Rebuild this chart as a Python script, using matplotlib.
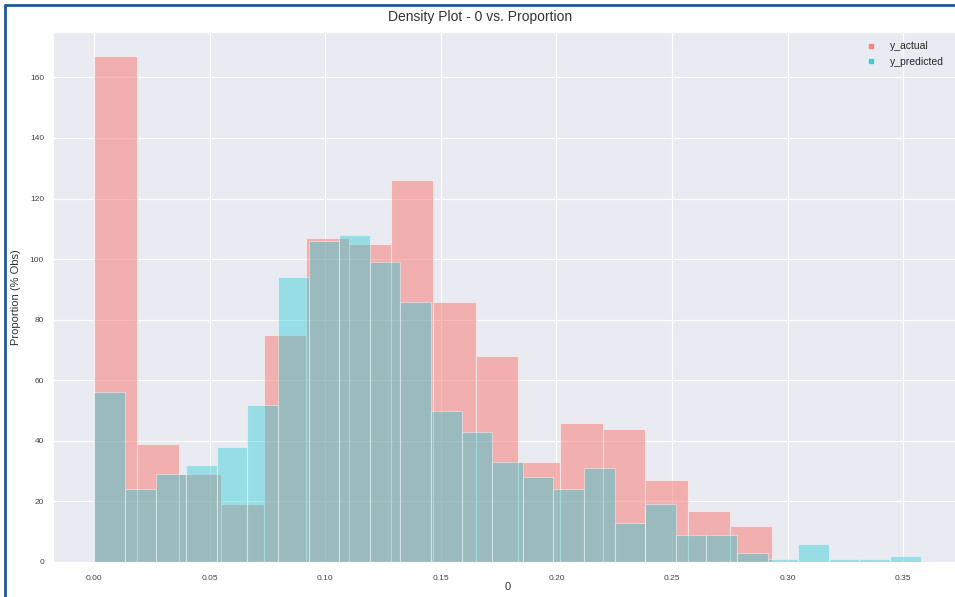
import numpy as np
import matplotlib
matplotlib.use("Agg")
import matplotlib.pyplot as plt
import seaborn as sns
from matplotlib.lines import Line2D

sns.set_style("darkgrid")
plt.rcParams['font.family'] = ['Liberation Sans', 'DejaVu Sans']

# Data
actual_range = (0.0, 0.2934)
actual_values = [167, 39, 29, 19, 75, 107, 105, 126, 86, 68, 33, 46, 44, 27, 17, 12]
predicted_range = (0.0, 0.3576)
predicted_values = [56, 24, 29, 32, 38, 52, 94, 106, 108, 99, 86, 50, 43, 33, 28,
                    24, 31, 13, 19, 9, 9, 3, 1, 6, 1, 1, 2]
series_names = ["y_actual", "y_predicted"]
series_colors = ["#F8766D", "#1CCBD4"]
series_alpha = [0.5, 0.4]
title = "Density Plot - 0 vs. Proportion"
x_label = "0"
y_label = "Proportion (% Obs)"

W, H = 955, 597
fig = plt.figure(figsize=(W / 100, H / 100), dpi=100)
ax = fig.add_axes([53 / W, 1 - 562 / H, (962 - 53) / W, (562 - 32) / H])

for rng, vals, col, a, name in [(actual_range, actual_values, series_colors[0], series_alpha[0], series_names[0]),
                                (predicted_range, predicted_values, series_colors[1], series_alpha[1], series_names[1])]:
    edges = np.linspace(rng[0], rng[1], len(vals) + 1)
    ax.hist(edges[:-1], bins=edges, weights=vals, color=col, alpha=a,
            edgecolor="white", linewidth=0.8, label=name)

ax.set_xlim(-0.0179, 0.3755)
ax.set_ylim(0, 175)
ax.set_xticks(np.arange(0, 0.351, 0.05))
ax.set_xticklabels([f"{v:.2f}" for v in np.arange(0, 0.351, 0.05)])
ax.set_yticks(np.arange(0, 161, 20))
ax.tick_params(axis='x', labelsize=6, colors='#444444', pad=6)
ax.tick_params(axis='y', labelsize=6, colors='#444444', pad=3)
ax.set_xlabel(x_label, fontsize=8, color='#333333', labelpad=0)
ax.set_ylabel(y_label, fontsize=8, color='#333333')
ax.yaxis.set_label_coords((21 - 53) / (962 - 53), 0.5)
fig.text(0.503, 1 - 17 / H, title, ha='center', va='center', fontsize=10, color='#333333')

handles = [Line2D([0], [0], marker='s', linestyle='', markersize=3, color=c, alpha=0.8, label=n)
           for c, n in zip(series_colors, series_names)]
ax.legend(handles=handles, loc='upper right', bbox_to_anchor=(0.99, 1.0), fontsize=7.5,
          frameon=False, handletextpad=0.8, labelspacing=0.5)

# screenshot frame
fig.add_artist(Line2D([5 / W, 5 / W], [0, 1 - 5 / H], transform=fig.transFigure, color='#1f5a94', lw=2))
fig.add_artist(Line2D([5 / W, 1], [1 - 5 / H, 1 - 5 / H], transform=fig.transFigure, color='#1f5a94', lw=2))

fig.savefig("out.png", dpi=100)
